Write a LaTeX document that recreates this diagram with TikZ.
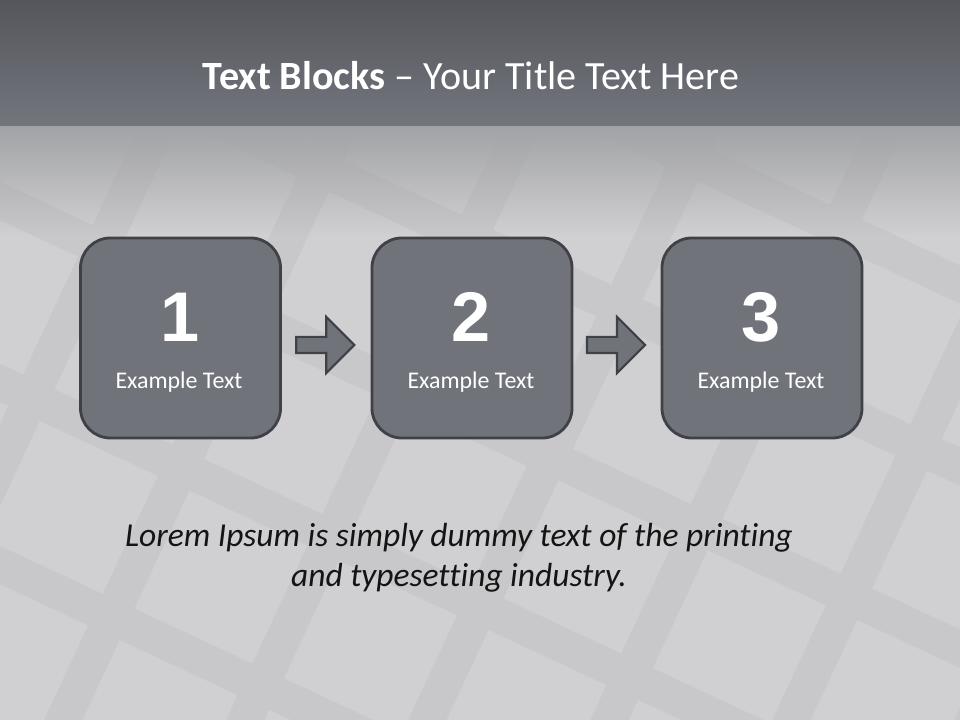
\documentclass[tikz,border=0pt]{standalone}
\usepackage{fontspec}
\setmainfont{Carlito}[Ligatures={TeX,NoCommon}]
\newfontfamily\numfont{Liberation Sans}
\usetikzlibrary{shapes.arrows}
\usetikzlibrary{calc}
\usetikzlibrary{fadings}

\definecolor{bandtop}{HTML}{55565C}
\definecolor{bandlow}{HTML}{74767E}
\definecolor{fadetop}{HTML}{A2A3A6}
\definecolor{floorgray}{HTML}{C8C8CA}
\definecolor{tilegray}{HTML}{D0D0D2}
\definecolor{boxfill}{HTML}{71737B}
\definecolor{boxline}{HTML}{404146}
\definecolor{bodytext}{HTML}{141414}

\tikzset{
  stepbox/.style={draw=boxline, fill=boxfill, line width=2pt, rounded corners=0.75cm,
    minimum width=5cm, minimum height=5cm, inner sep=0pt},
  stepnum/.style={text=white, inner sep=0pt, font=\numfont\bfseries\fontsize{50}{50}\selectfont},
  steplabel/.style={text=white, inner sep=0pt, font=\fontsize{17}{20}\selectfont},
  steparrow/.style={single arrow, draw=boxline, fill=boxfill, line width=1.5pt,
    minimum height=1.45cm, single arrow head extend=0.5cm,
    single arrow head indent=0pt, inner xsep=0pt, inner ysep=0.175cm},
  titletext/.style={text=white, inner sep=0pt, font=\fontsize{28.5}{32}\selectfont},
  notetext/.style={text=bodytext, align=center, inner sep=0pt, font=\itshape\fontsize{23.8}{28.4}\selectfont},
}

\begin{document}
\begin{tikzpicture}[x=0.025cm, y=-0.025cm]
    \useasboundingbox (0,0) rectangle (960,720);
    % floor with tiles
    \fill[floorgray] (0,0) rectangle (960,720);
    \begin{scope}
      \clip (0,0) rectangle (960,720);
      \begin{scope}[rotate around={-25:(480,400)}]
        \foreach \i in {-5,...,5}
          \foreach \j in {-5,...,5}
            \fill[tilegray] (420+\i*165, 440+\j*165) rectangle ++(130,130);
      \end{scope}
    \end{scope}
    % title band
    \shade[top color=bandtop, bottom color=bandlow] (0,0) rectangle (960,128);
    \fill[fadetop, path fading=south] (0,126) rectangle (960,235);
    \node[titletext] (title) at (471,76) {\textbf{Text Blocks} – Your Title Text Here};
    % steps
    \node[stepbox] (b1) at (180.5,338) {};
    \node[stepbox] (b2) at (472,338) {};
    \node[stepbox] (b3) at (762,338) {};
    \node[stepnum] (n1) at (180,317) {1};
    \node[stepnum] (n2) at (471,317) {2};
    \node[stepnum] (n3) at (761,317) {3};
    \node[steplabel] (l1) at (179,382) {Example Text};
    \node[steplabel] (l2) at (471,382) {Example Text};
    \node[steplabel] (l3) at (761,382) {Example Text};
    \node[steparrow] (a12) at ($(b1.east)!0.5!(b2.west)+(-5,7)$) {};
    \node[steparrow] (a23) at ($(b2.east)!0.5!(b3.west)+(-5,7)$) {};
    % note
    \node[notetext] (note) at (459,558) {Lorem Ipsum is simply dummy text of the printing\\and typesetting industry.};
\end{tikzpicture}
\end{document}
